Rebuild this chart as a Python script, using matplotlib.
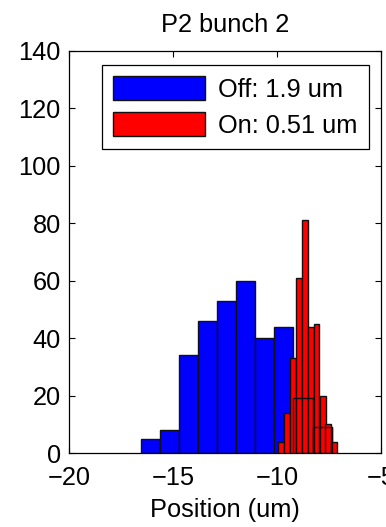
import numpy as np
import matplotlib.pyplot as plt

# histogram of bunch position, laser off vs on
off_centers = [-16.09, -15.17, -14.25, -13.34, -12.42, -11.50, -10.58, -9.67, -8.75, -7.83]
off_counts = [5, 8, 34, 46, 53, 60, 40, 44, 19, 9]
off_width = 0.918

on_centers = [-9.80, -9.52, -9.23, -8.95, -8.66, -8.38, -8.10, -7.81, -7.53, -7.24]
on_counts = [4, 14, 33, 61, 81, 44, 45, 20, 10, 4]
on_width = 0.284

labels = ['Off: 1.9 um', 'On: 0.51 um']
xticks = [-20, -15, -10, -5]
yticks = [0, 20, 40, 60, 80, 100, 120, 140]

plt.rcParams['font.family'] = ['Liberation Sans', 'DejaVu Sans']
fs = 18.3

fig = plt.figure(figsize=(3.86, 5.27), dpi=100)
ax = fig.add_axes([0.179, 0.1404, 0.808, 0.763])

ax.bar(off_centers, off_counts, width=off_width, color='#0000ff',
       edgecolor='#111111', linewidth=1.0, label=labels[0], zorder=2)
ax.bar(on_centers, on_counts, width=on_width, color='#ff0000',
       edgecolor='#111111', linewidth=1.0, label=labels[1], zorder=3)
# blue outlines that show through the red bars in the original
ax.bar(off_centers[-2:], off_counts[-2:], width=off_width, facecolor='none',
       edgecolor='#111111', linewidth=1.0, zorder=4)

ax.set_xlim(-20, -5)
ax.set_ylim(0, 140)
ax.set_xticks(xticks)
ax.set_yticks(yticks)
ax.tick_params(axis='both', direction='in', length=4, width=0.8, top=True, right=True,
               labelsize=fs, colors='black')
ax.tick_params(axis='y', pad=6)
ax.tick_params(axis='x', pad=9)
for s in ax.spines.values():
    s.set_linewidth(0.9)

ax.set_title('P2 bunch 2', fontsize=fs, pad=13.5)
ax.set_xlabel('Position (um)', fontsize=fs, labelpad=6)

leg = ax.legend(loc='upper right', bbox_to_anchor=(0.9615, 0.965), fontsize=fs,
                fancybox=False, edgecolor='black', framealpha=1,
                handlelength=3.6, handleheight=1.03, handletextpad=0.52,
                borderpad=0.45, labelspacing=0.42, borderaxespad=0)
leg.get_frame().set_linewidth(0.9)

fig.savefig('out.png', dpi=100)
